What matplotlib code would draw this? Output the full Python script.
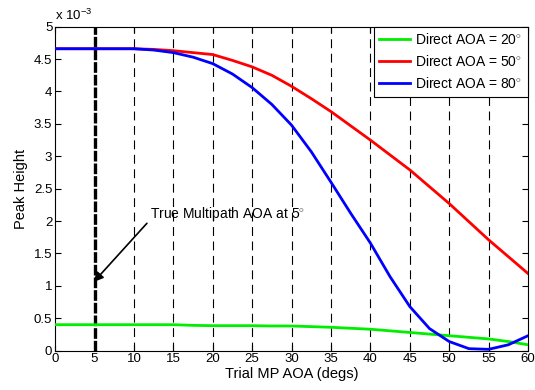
import numpy as np
import matplotlib
matplotlib.use('Agg')
import matplotlib.pyplot as plt

plt.rcParams['font.family'] = ['Liberation Sans', 'DejaVu Sans']
plt.rcParams['mathtext.fontset'] = 'custom'
plt.rcParams['mathtext.rm'] = 'Liberation Sans'

# Trial multipath AOA (degrees)
trial_aoa = np.arange(0, 60.1, 2.5)

# Peak height values in units of 1e-3
peak_20 = [0.40, 0.40, 0.40, 0.40, 0.40, 0.40, 0.40, 0.39, 0.385, 0.385, 0.385,
           0.38, 0.38, 0.37, 0.36, 0.345, 0.33, 0.305, 0.28, 0.255, 0.23, 0.205,
           0.18, 0.14, 0.09]
peak_50 = [4.66, 4.66, 4.66, 4.66, 4.66, 4.65, 4.63, 4.60, 4.57, 4.48, 4.38,
           4.25, 4.08, 3.89, 3.69, 3.47, 3.25, 3.02, 2.79, 2.53, 2.27, 1.99,
           1.71, 1.45, 1.19]
peak_80 = [4.66, 4.66, 4.66, 4.66, 4.66, 4.64, 4.60, 4.53, 4.43, 4.27, 4.06,
           3.80, 3.48, 3.07, 2.60, 2.12, 1.66, 1.14, 0.68, 0.34, 0.14, 0.03,
           0.02, 0.09, 0.23]

true_mp_aoa = 5
grid_aoa = list(range(10, 60, 5))

fig = plt.figure(figsize=(5.35, 3.9), dpi=100)
ax = fig.add_axes([0.103, 0.101, 0.884, 0.8305])

for g in grid_aoa:
    ax.axvline(g, color='k', lw=0.8, linestyle=(0, (8, 5)), zorder=1)
ax.axvline(true_mp_aoa, color='k', lw=2.4, linestyle=(0, (3.2, 0.6)), zorder=1)

ax.plot(trial_aoa, peak_20, color='#00ee00', lw=2, label=r'Direct AOA = 20$^{\circ}$', zorder=3)
ax.plot(trial_aoa, peak_50, color='#ff0000', lw=2, label=r'Direct AOA = 50$^{\circ}$', zorder=3)
ax.plot(trial_aoa, peak_80, color='#0000ff', lw=2, label=r'Direct AOA = 80$^{\circ}$', zorder=3)

ax.annotate(r'True Multipath AOA at 5$^{\circ}$', xy=(4.9, 1.06), xytext=(12.0, 2.11),
            fontsize=10, va='center', ha='left',
            arrowprops=dict(arrowstyle='-|>', color='k', lw=1.2, mutation_scale=14,
                            shrinkA=0, shrinkB=0, relpos=(0, 0.15)))

ax.set_xlim(0, 60)
ax.set_ylim(0, 5)
ax.set_xticks(range(0, 61, 5))
ax.set_yticks(np.arange(0, 5.01, 0.5))
ax.set_yticklabels(['0', '0.5', '1', '1.5', '2', '2.5', '3', '3.5', '4', '4.5', '5'])
ax.tick_params(direction='in', top=True, right=True, labelsize=9.5, length=4, pad=2)
ax.set_xlabel('Trial MP AOA (degs)', fontsize=10.5, labelpad=1)
ax.set_ylabel('Peak Height', fontsize=10.5, labelpad=4)
ax.text(0.0, 1.01, r'x 10$^{-3}$', transform=ax.transAxes, fontsize=9.5,
        ha='left', va='bottom')

leg = ax.legend(loc='upper right', borderaxespad=0, fontsize=10, fancybox=False,
                framealpha=1, edgecolor='k', handlelength=2.2, handletextpad=0.4,
                labelspacing=0.5, borderpad=0.4)
leg.get_frame().set_linewidth(0.8)

fig.savefig('out.png', dpi=100, facecolor='white')
